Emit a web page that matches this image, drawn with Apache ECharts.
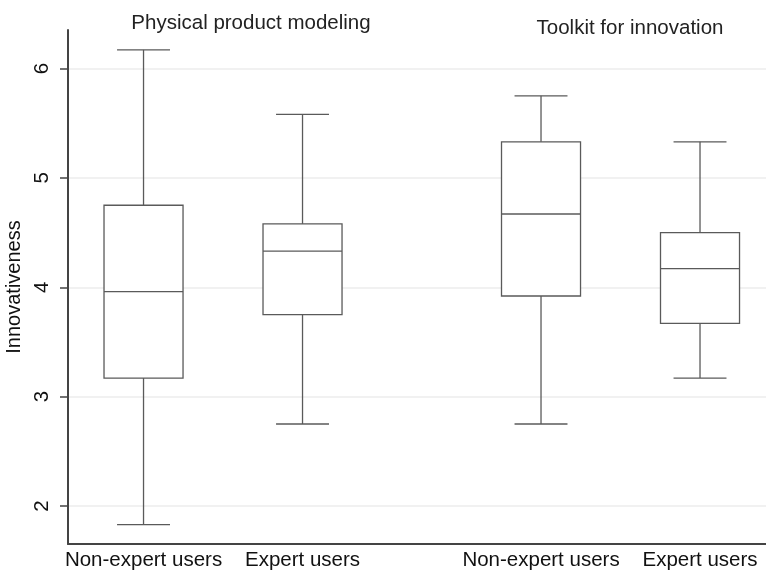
<!DOCTYPE html>
<html>
<head>
<meta charset="utf-8">
<script src="https://cdn.jsdelivr.net/npm/echarts@6/dist/echarts.min.js"></script>
<style>html,body{margin:0;padding:0;background:#fff}#c{width:766px;height:572px}</style>
</head>
<body>
<div id="c"></div>
<script>
// Group names and category labels
const groupTitles = ['Physical product modeling', 'Toolkit for innovation'];
const categories = ['Non-expert users', 'Expert users', 'Non-expert users', 'Expert users'];
// x positions of the boxes (gap between the two groups)
const positions = [0, 1, 2.5, 3.5];
// box statistics per box: [min, Q1, median, Q3, max]
const lowerWhisker = [1.83, 2.75, 2.75, 3.17];
const q1Values = [3.17, 3.75, 3.92, 3.67];
const medians = [3.96, 4.33, 4.67, 4.17];
const q3Values = [4.75, 4.58, 5.33, 4.50];
const upperWhisker = [6.17, 5.58, 5.75, 5.33];
const yTicks = [2, 3, 4, 5, 6];

const data = positions.map((p, i) => [p, lowerWhisker[i], q1Values[i], medians[i], q3Values[i], upperWhisker[i]]);

const chart = echarts.init(document.getElementById('c'));
const lineColor = '#5a5a5a';
chart.setOption({
  animation: false,
  backgroundColor: '#fff',
  textStyle: { fontFamily: 'Liberation Sans' },
  grid: { left: 68, right: 0, top: 30, bottom: 28, containLabel: false, outerBoundsMode: 'none' },
  graphic: [
    { type: 'text', x: 251, y: 23, style: { text: groupTitles[0], fontSize: 20.5, fontFamily: 'Liberation Sans', fill: '#222', textAlign: 'center', textVerticalAlign: 'middle' } },
    { type: 'text', x: 630, y: 28, style: { text: groupTitles[1], fontSize: 20.5, fontFamily: 'Liberation Sans', fill: '#222', textAlign: 'center', textVerticalAlign: 'middle' } }
  ],
  xAxis: {
    type: 'value',
    min: -0.475,
    max: 3.915,
    axisLine: { show: true, onZero: false, lineStyle: { color: '#444', width: 2 } },
    axisTick: { show: false },
    splitLine: { show: false },
    axisLabel: {
      customValues: positions,
      formatter: function (v) {
        const i = positions.indexOf(v);
        return i >= 0 ? categories[i] : '';
      },
      fontSize: 20.5, color: '#111', margin: 6
    }
  },
  yAxis: {
    type: 'value',
    min: 1.653,
    max: 6.352,
    name: 'Innovativeness',
    nameLocation: 'middle',
    nameGap: 34,
    nameTextStyle: { fontSize: 20, color: '#111' },
    axisLine: { show: true, onZero: false, lineStyle: { color: '#444', width: 2 } },
    axisTick: { show: true, length: 8, customValues: yTicks, lineStyle: { color: '#444', width: 1.5 } },
    axisLabel: { customValues: yTicks, rotate: 90, fontSize: 20.5, color: '#111', margin: 15 },
    splitLine: { show: true, lineStyle: { color: '#ececec', width: 1.5 } }
  },
  series: [{
    type: 'custom',
    data: data,
    encode: { x: 0, y: [1, 2, 3, 4, 5] },
    renderItem: function (params, api) {
      const x = api.value(0);
      const pMin = api.coord([x, api.value(1)]);
      const pQ1 = api.coord([x, api.value(2)]);
      const pMed = api.coord([x, api.value(3)]);
      const pQ3 = api.coord([x, api.value(4)]);
      const pMax = api.coord([x, api.value(5)]);
      const boxHalf = api.size([0.497, 0])[0] / 2;
      const capHalf = api.size([0.333, 0])[0] / 2;
      const cx = pMed[0];
      const style = { stroke: lineColor, lineWidth: 1.3, fill: null };
      return {
        type: 'group',
        children: [
          { type: 'rect', shape: { x: cx - boxHalf, y: pQ3[1], width: boxHalf * 2, height: pQ1[1] - pQ3[1] }, style: { stroke: lineColor, lineWidth: 1.3, fill: '#fff' } },
          { type: 'line', shape: { x1: cx - boxHalf, y1: pMed[1], x2: cx + boxHalf, y2: pMed[1] }, style: style },
          { type: 'line', shape: { x1: cx, y1: pQ3[1], x2: cx, y2: pMax[1] }, style: style },
          { type: 'line', shape: { x1: cx, y1: pQ1[1], x2: cx, y2: pMin[1] }, style: style },
          { type: 'line', shape: { x1: cx - capHalf, y1: pMax[1], x2: cx + capHalf, y2: pMax[1] }, style: style },
          { type: 'line', shape: { x1: cx - capHalf, y1: pMin[1], x2: cx + capHalf, y2: pMin[1] }, style: style }
        ]
      };
    }
  }]
});
</script>
</body>
</html>
